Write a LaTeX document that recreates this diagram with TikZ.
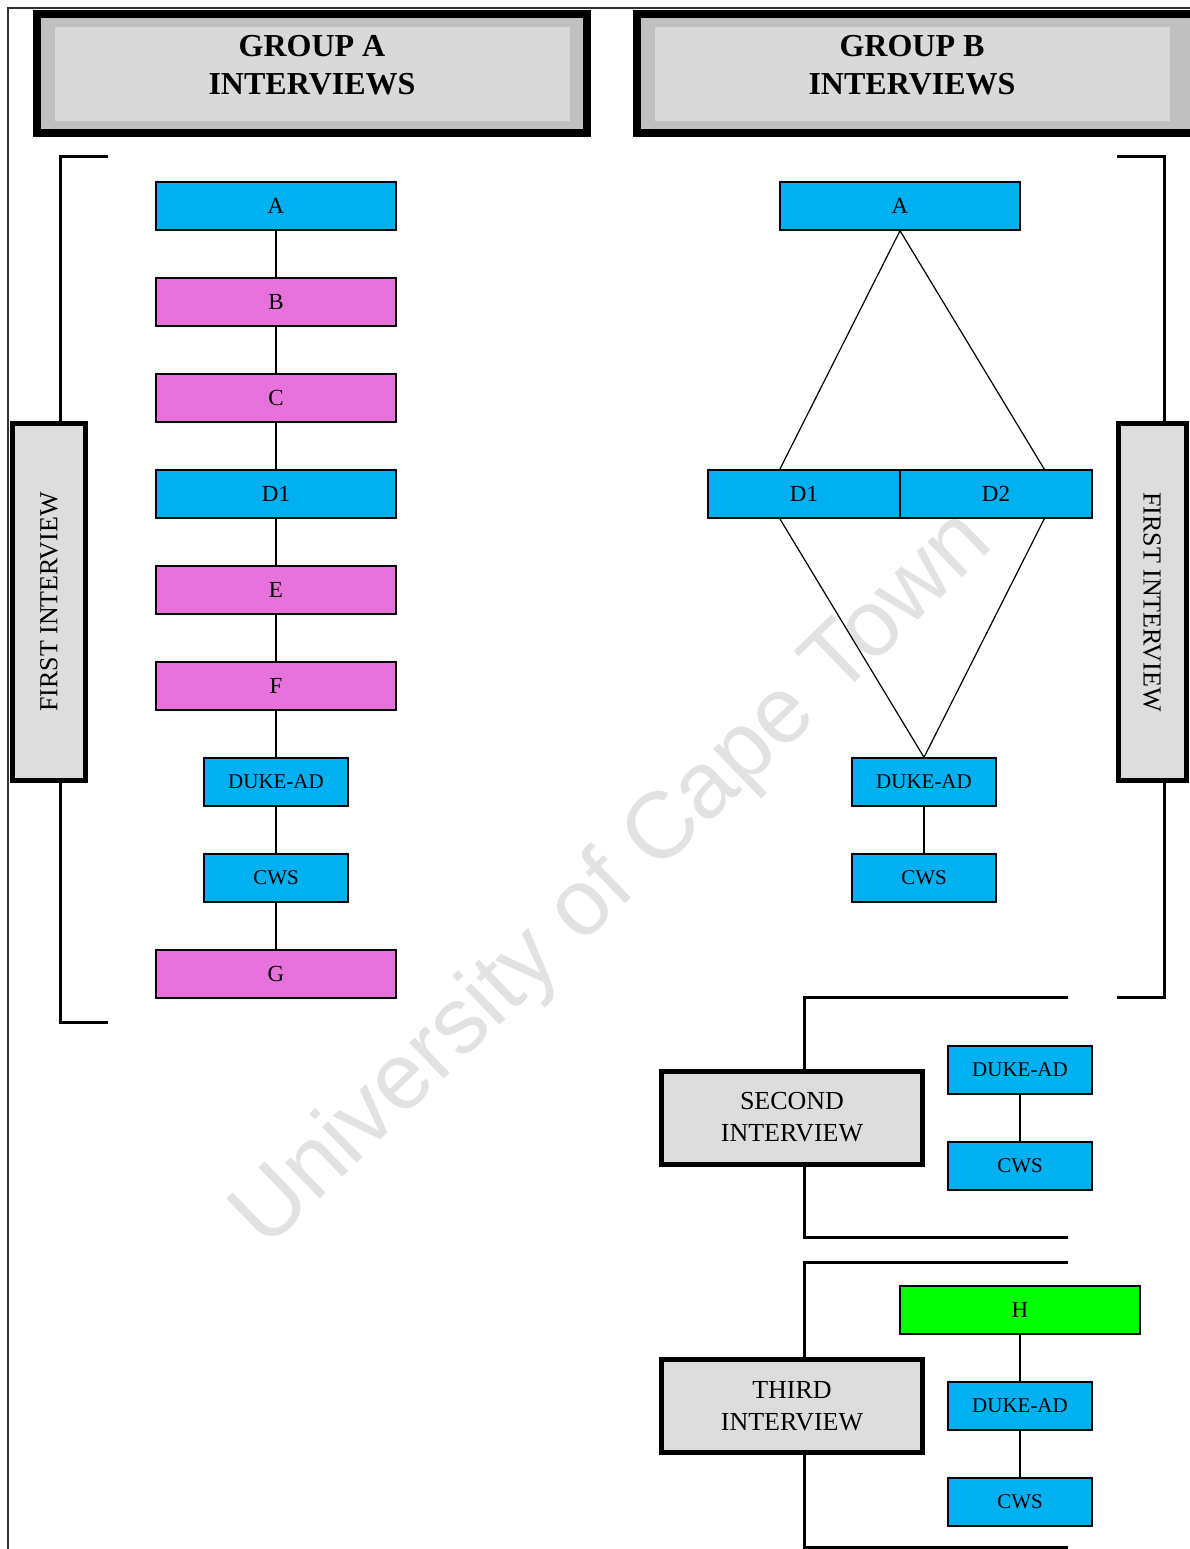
\documentclass[tikz,border=0pt]{standalone}
\usepackage{fontspec}
\setmainfont{Liberation Serif}
\setsansfont{Liberation Sans}
\usetikzlibrary{calc}
\definecolor{cyanbox}{HTML}{00B0F0}
\definecolor{pinkbox}{HTML}{E872DC}
\definecolor{greenbox}{HTML}{00FF00}
\definecolor{hdrmid}{HTML}{C0C0C0}
\definecolor{hdrin}{HTML}{D9D9D9}
\definecolor{lblfill}{HTML}{DDDDDD}
\definecolor{wmark}{HTML}{E2E2E2}
\begin{document}
\begin{tikzpicture}[x=1pt,y=-1pt,
  bigbox/.style={draw=black, line width=1.4pt, minimum width=240pt, minimum height=48pt, inner sep=0pt, font=\fontsize{23}{27}\selectfont},
  smallbox/.style={draw=black, line width=1.4pt, minimum width=144pt, minimum height=48pt, inner sep=0pt, font=\fontsize{21}{25}\selectfont},
  halfbox/.style={draw=black, line width=1.4pt, minimum width=192pt, minimum height=48pt, inner sep=0pt, font=\fontsize{23}{27}\selectfont},
  cyanfill/.style={fill=cyanbox},
  pinkfill/.style={fill=pinkbox},
  greenfill/.style={fill=greenbox},
  link/.style={draw=black, line width=1.2pt},
  bracket/.style={draw=black, line width=3pt},
  vlabel/.style={draw=black, line width=5pt, fill=lblfill, inner sep=0pt, minimum width=73pt, minimum height=357pt},
  hlabel/.style={draw=black, line width=5pt, fill=lblfill, inner sep=0pt, minimum width=261pt, minimum height=93pt, align=center, font=\fontsize{26}{32}\selectfont},
  hdrtext/.style={align=center, font=\bfseries\fontsize{32}{38}\selectfont}
]
\useasboundingbox (0,0) rectangle (1190,1549);
\fill[white] (0,0) rectangle (1190,1549);

% page frame
\draw[black!80, line width=1.5pt] (8,1549) -- (8,8) -- (1190,8);

% watermark
\node[rotate=44, text=wmark, font=\sffamily\fontsize{94}{94}\selectfont] (wm) at (614,881) {University of Cape Town};

% headers
\draw[fill=hdrmid, draw=black, line width=8pt] (37,14) rectangle (587,133);
\fill[hdrin] (55,27) rectangle (570,121);
\node[hdrtext] (hdrA) at (312,65) {GROUP A\\INTERVIEWS};
\draw[fill=hdrmid, draw=black, line width=8pt] (637,14) rectangle (1196,133);
\fill[hdrin] (655,27) rectangle (1170,121);
\node[hdrtext] (hdrB) at (912,65) {GROUP B\\INTERVIEWS};

% left bracket
\coordinate (lbt) at (108,157);
\coordinate (lbb) at (108,1022);
\draw[bracket] (lbt) -- (60,157) -- (60,1022) -- (lbb);
\node[vlabel] (firstA) at (49,602) {};
\node[rotate=90, font=\fontsize{26}{30}\selectfont] at (firstA.center) {FIRST INTERVIEW};

% right bracket
\coordinate (rbt) at (1117,157);
\coordinate (rbb) at (1117,997);
\draw[bracket] (rbt) -- (1164,157) -- (1164,997) -- (rbb);
\node[vlabel, minimum width=68pt] (firstB) at (1152,602) {};
\node[rotate=-90, font=\fontsize{26}{30}\selectfont] at (firstB.center) {FIRST INTERVIEW};

% Group A column
\node[bigbox, cyanfill] (aA) at (276,206) {A};
\node[bigbox, pinkfill] (aB) at (276,302) {B};
\node[bigbox, pinkfill] (aC) at (276,398) {C};
\node[bigbox, cyanfill] (aD) at (276,494) {D1};
\node[bigbox, pinkfill] (aE) at (276,590) {E};
\node[bigbox, pinkfill] (aF) at (276,686) {F};
\node[smallbox, cyanfill] (aDuke) at (276,782) {DUKE-AD};
\node[smallbox, cyanfill] (aCws) at (276,878) {CWS};
\node[bigbox, pinkfill] (aG) at (276,974) {G};
\foreach \u/\v in {aA/aB, aB/aC, aC/aD, aD/aE, aE/aF, aF/aDuke, aDuke/aCws, aCws/aG}
  \draw[link] (\u.south) -- (\v.north);

% Group B first interview
\node[bigbox, cyanfill] (bA) at (900,206) {A};
\node[halfbox, cyanfill] (bD1) at (804,494) {D1};
\node[halfbox, cyanfill] (bD2) at (996,494) {D2};
\node[smallbox, cyanfill] (bDuke) at (924,782) {DUKE-AD};
\node[smallbox, cyanfill] (bCws) at (924,878) {CWS};
\draw[link] (bA.south) -- ($(bD1.north west)!0.375!(bD1.north east)$);
\draw[link] (bA.south) -- ($(bD2.north west)!0.75!(bD2.north east)$);
\draw[link] ($(bD1.south west)!0.375!(bD1.south east)$) -- (bDuke.north);
\draw[link] ($(bD2.south west)!0.75!(bD2.south east)$) -- (bDuke.north);
\draw[link] (bDuke.south) -- (bCws.north);

% second interview
\coordinate (s1) at (1068,997);
\coordinate (s2) at (1068,1237);
\draw[bracket] (s1) -- (804,997) -- (804,1237) -- (s2);
\node[hlabel] (second) at (792,1117.5) {SECOND\\INTERVIEW};
\node[smallbox, cyanfill] (sDuke) at (1020,1070) {DUKE-AD};
\node[smallbox, cyanfill] (sCws) at (1020,1166) {CWS};
\draw[link] (sDuke.south) -- (sCws.north);

% third interview
\coordinate (t1) at (1068,1262);
\coordinate (t2) at (1068,1547);
\draw[bracket] (t1) -- (804,1262) -- (804,1547) -- (t2);
\node[hlabel] (third) at (792,1406) {THIRD\\INTERVIEW};
\node[bigbox, greenfill] (tH) at (1020,1310) {H};
\node[smallbox, cyanfill] (tDuke) at (1020,1406) {DUKE-AD};
\node[smallbox, cyanfill] (tCws) at (1020,1502) {CWS};
\draw[link] (tH.south) -- (tDuke.north);
\draw[link] (tDuke.south) -- (tCws.north);
\end{tikzpicture}
\end{document}
